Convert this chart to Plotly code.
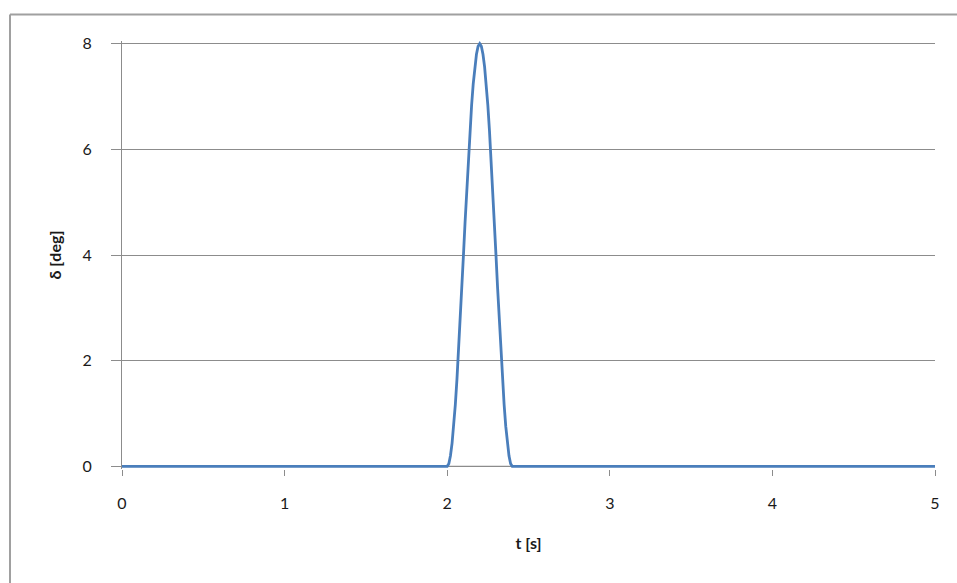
import plotly.graph_objects as go

t_values = [0.0, 1.0, 2.0,
            2.01, 2.02, 2.03, 2.04, 2.05, 2.06, 2.07, 2.08, 2.09, 2.10,
            2.11, 2.12, 2.13, 2.14, 2.15, 2.16, 2.17, 2.18, 2.19, 2.20,
            2.21, 2.22, 2.23, 2.24, 2.25, 2.26, 2.27, 2.28, 2.29, 2.30,
            2.31, 2.32, 2.33, 2.34, 2.35, 2.36, 2.37, 2.38, 2.39, 2.40,
            3.0, 4.0, 5.0]
delta_values = [0.0, 0.0, 0.0,
                0.05, 0.2, 0.44, 0.76, 1.17, 1.65, 2.18, 2.76, 3.37, 4.0,
                4.63, 5.24, 5.82, 6.35, 6.83, 7.24, 7.56, 7.8, 7.95, 8.0,
                7.95, 7.8, 7.56, 7.24, 6.83, 6.35, 5.82, 5.24, 4.63, 4.0,
                3.37, 2.76, 2.18, 1.65, 1.17, 0.76, 0.44, 0.2, 0.05, 0.0,
                0.0, 0.0, 0.0]
x_ticks = [0, 1, 2, 3, 4, 5]
y_ticks = [0, 2, 4, 6, 8]

font_family = "Lato, 'Open Sans', sans-serif"
grid_color = "#8c8c8c"
border_color = "#a0a0a0"

# small pad so the thick line at 0 and 8 is not clipped
pad = 0.05
px_per_unit = 422 / 8
pad_px = pad * px_per_unit
plot_h = 422 + 2 * pad_px
top = 44 - pad_px
bottom = 583 - top - plot_h

border_x = -112 / 813
border_y = (plot_h + 29 - pad_px) / plot_h

fig = go.Figure()
fig.add_trace(go.Scatter(
    x=t_values, y=delta_values, mode="lines",
    line=dict(color="#4a7ebb", width=2.8),
    hoverinfo="skip", showlegend=False,
))

fig.update_layout(
    width=957, height=583,
    margin=dict(l=122, r=22, t=top, b=bottom),
    paper_bgcolor="white", plot_bgcolor="white",
    font=dict(family=font_family, size=16, color="#1a1a1a"),
    xaxis=dict(
        range=[0, 5], tickvals=x_ticks, showgrid=False, zeroline=False,
        showline=False, ticks="outside", ticklen=6, tickcolor=grid_color,
        tickwidth=1, tickfont=dict(size=16), ticklabelstandoff=14,
        title=dict(text="<b>t [s]</b>", font=dict(size=16), standoff=26),
    ),
    yaxis=dict(
        range=[-pad, 8 + pad], tickvals=y_ticks, showgrid=True, gridcolor=grid_color,
        gridwidth=1.2, zeroline=False, showline=True, linecolor=grid_color,
        linewidth=1.2, ticks="outside", ticklen=10, tickcolor=grid_color,
        tickwidth=1, tickfont=dict(size=16), ticklabelstandoff=16,
        title=dict(text="<b>δ [deg]</b>", font=dict(size=16), standoff=16),
    ),
    shapes=[
        dict(type="line", xref="paper", yref="paper",
             x0=border_x, x1=1.3, y0=border_y, y1=border_y,
             line=dict(color=border_color, width=2), layer="below"),
        dict(type="line", xref="paper", yref="paper",
             x0=border_x, x1=border_x, y0=-1.0, y1=border_y,
             line=dict(color=border_color, width=2), layer="below"),
        dict(type="line", xref="paper", yref="y", x0=0, x1=1, y0=0, y1=0,
             line=dict(color=grid_color, width=1.2), layer="below"),
    ],
)

fig.write_html(
    "out.html",
    config={"displayModeBar": False},
    post_script="document.body.style.margin='0px';document.body.style.overflow='hidden';",
)
